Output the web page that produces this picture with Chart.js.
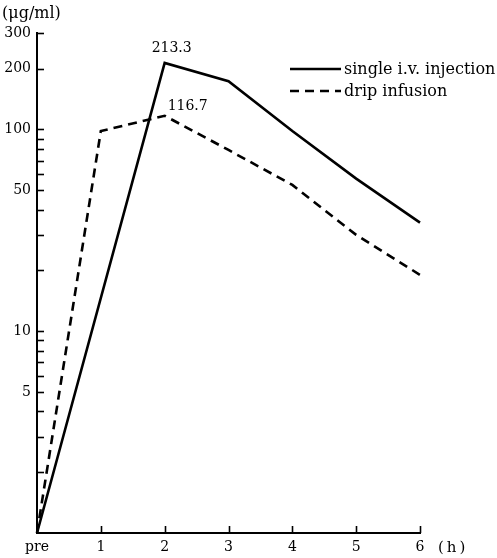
<!DOCTYPE html>
<html>
<head>
<meta charset="utf-8">
<script src="https://cdn.jsdelivr.net/npm/chart.js@4/dist/chart.umd.min.js"></script>
<style>
  html, body { margin: 0; padding: 0; background: #fff; }
  #wrap { width: 497px; height: 558px; position: relative; }
</style>
</head>
<body>
<div id="wrap"><canvas id="c" width="497" height="558"></canvas></div>
<script>
// Sampling times (h); 0 = before dosing
const hours = [0, 1, 2, 3, 4, 5, 6];
const hourLabels = ['pre', '1', '2', '3', '4', '5', '6'];

// Serum concentration (µg/ml); pre-dose plotted at the axis floor
const singleIV = [1, null, 213.3, 173, 98, 57, 34.5];
const dripInfusion = [1, 98, 116.7, 79, 53, 30, 19];

// Y axis tick marks and which ones carry a number
const yTickValues = [1, 2, 3, 4, 5, 6, 7, 8, 9, 10, 20, 30, 40, 50, 60, 70, 80, 90, 100, 200, 300];
const yTickLabels = [5, 10, 50, 100, 200, 300];

const seriesNames = ['single i.v. injection', 'drip infusion'];
const seriesValues = [singleIV, dripInfusion];

const SERIF = '"DejaVu Serif", "Liberation Serif", serif';

// Tick marks drawn inward from both axes, plus unit captions, value labels and legend
const decorations = {
  id: 'decorations',
  afterDraw(chart) {
    const ctx = chart.ctx;
    const xs = chart.scales.x, ys = chart.scales.y;
    const x0 = xs.left, y0 = ys.bottom;
    ctx.save();
    ctx.strokeStyle = '#000';
    ctx.lineWidth = 1.6;
    ys.ticks.forEach(t => {
      if (t.value <= 1) return;
      const py = Math.round(ys.getPixelForValue(t.value)) + 0.5;
      ctx.beginPath();
      ctx.moveTo(x0, py);
      ctx.lineTo(x0 + 7, py);
      ctx.stroke();
    });
    xs.ticks.forEach(t => {
      if (t.value <= 0) return;
      const px = Math.round(xs.getPixelForValue(t.value)) + 0.5;
      ctx.beginPath();
      ctx.moveTo(px, y0);
      ctx.lineTo(px, y0 - 7);
      ctx.stroke();
    });

    ctx.fillStyle = '#000';
    ctx.textBaseline = 'middle';
    ctx.textAlign = 'left';
    ctx.font = '16px ' + SERIF;
    ctx.fillText('(μg/ml)', 2, 14);
    ctx.font = '15px ' + SERIF;
    ctx.letterSpacing = '3px';
    ctx.fillText('(h)', xs.getPixelForValue(6) + 18, 548);
    ctx.letterSpacing = '0px';

    // value labels at the 2 h peaks
    const peaks = [
      { ds: 0, i: 2, dx: 7, dy: -15 },
      { ds: 1, i: 2, dx: 23, dy: -9 }
    ];
    ctx.font = '14px ' + SERIF;
    ctx.textAlign = 'center';
    peaks.forEach(p => {
      const v = seriesValues[p.ds][p.i];
      const px = xs.getPixelForValue(hours[p.i]);
      const py = ys.getPixelForValue(v);
      ctx.fillText(v.toFixed(1), px + p.dx, py + p.dy);
    });

    // legend
    ctx.textAlign = 'left';
    ctx.font = '16px ' + SERIF;
    chart.data.datasets.forEach((ds, k) => {
      const ly = 69 + k * 22;
      ctx.save();
      ctx.lineWidth = ds.borderWidth;
      ctx.strokeStyle = ds.borderColor;
      ctx.setLineDash(ds.borderDash || []);
      ctx.beginPath();
      ctx.moveTo(290, ly);
      ctx.lineTo(341, ly);
      ctx.stroke();
      ctx.restore();
      ctx.fillText(ds.label, 344, ly + 1);
    });
    ctx.restore();
  }
};

new Chart(document.getElementById('c'), {
  type: 'line',
  data: {
    labels: hours,
    datasets: [
      {
        label: seriesNames[0],
        data: hours.map((h, i) => ({ x: h, y: singleIV[i] })),
        borderColor: '#000',
        borderWidth: 2.6,
        pointRadius: 0,
        spanGaps: true,
        tension: 0,
        clip: false
      },
      {
        label: seriesNames[1],
        data: hours.map((h, i) => ({ x: h, y: dripInfusion[i] })),
        borderColor: '#000',
        borderWidth: 2.6,
        borderDash: [9, 6],
        pointRadius: 0,
        tension: 0,
        clip: false
      }
    ]
  },
  options: {
    responsive: false,
    animation: false,
    devicePixelRatio: 1,
    layout: { padding: { top: 33, right: 77, left: 0, bottom: 0 } },
    plugins: { legend: { display: false }, tooltip: { enabled: false } },
    scales: {
      x: {
        type: 'linear',
        min: 0,
        max: 6,
        grid: { display: false, drawTicks: false },
        border: { display: true, color: '#000', width: 2 },
        afterFit(s) { s.height = 25; },
        ticks: {
          stepSize: 1,
          padding: 6,
          color: '#000',
          font: { family: SERIF, size: 14 },
          callback: v => hourLabels[hours.indexOf(v)]
        }
      },
      y: {
        type: 'logarithmic',
        min: 1,
        max: 300,
        grid: { display: false, drawTicks: false },
        border: { display: true, color: '#000', width: 2 },
        afterFit(s) { s.width = 37; },
        afterBuildTicks(s) { s.ticks = yTickValues.map(v => ({ value: v })); },
        ticks: {
          autoSkip: false,
          padding: 6,
          color: '#000',
          font: { family: SERIF, size: 14 },
          callback: v => yTickLabels.includes(v) ? String(v) : ''
        }
      }
    }
  },
  plugins: [decorations]
});
</script>
</body>
</html>
